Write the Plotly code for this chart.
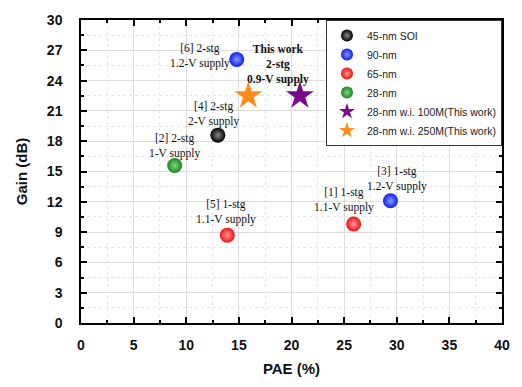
import plotly.graph_objects as go

# Data
series_names = ["45-nm SOI", "90-nm", "65-nm", "28-nm",
                "28-nm w.i. 100M(This work)", "28-nm w.i. 250M(This work)"]
series_pae = [[13.0], [14.8, 29.4], [25.9, 13.9], [8.9], [20.8], [15.9]]
series_gain = [[18.6], [26.1, 12.1], [9.8, 8.7], [15.6], [22.5], [22.5]]
series_colors = ["#000000", "#0a1ef0", "#f01010", "#128a1a", "#7a0a8a", "#ff8c1a"]
series_tints = ["#8a8a8a", "#8a96ff", "#ff9a9a", "#8ad08e", "#7a0a8a", "#ff8c1a"]
series_symbols = ["circle", "circle", "circle", "circle", "star", "star"]

label_texts = ["[6] 2-stg<br>1.2-V supply", "<b>This work<br>2-stg<br>0.9-V supply</b>",
               "[4] 2-stg<br>2-V supply", "[2] 2-stg<br>1-V supply",
               "[5] 1-stg<br>1.1-V supply", "[1] 1-stg<br>1.1-V supply",
               "[3] 1-stg<br>1.2-V supply"]
label_x = [11.3, 18.7, 12.6, 8.9, 13.8, 25.0, 30.0]
label_y = [26.4, 25.6, 20.7, 17.5, 11.0, 12.2, 14.3]

x_ticks = list(range(0, 41, 5))
y_ticks = list(range(0, 31, 3))

fig = go.Figure()
for name, xs, ys, col, tint, sym in zip(series_names, series_pae, series_gain,
                                        series_colors, series_tints, series_symbols):
    if sym == "circle":
        marker = dict(symbol=sym, size=15, color=col,
                      gradient=dict(type="radial", color=tint),
                      line=dict(width=0))
    else:
        marker = dict(symbol=sym, size=21, color=col, line=dict(width=0))
    fig.add_trace(go.Scatter(x=xs, y=ys, mode="markers", name=name, marker=marker))

for t, x, y in zip(label_texts, label_x, label_y):
    fig.add_annotation(x=x, y=y, xref="x", yref="y", text=t, showarrow=False,
                       font=dict(family="Liberation Serif", size=11.5, color="#111"),
                       align="center")

axis_common = dict(showline=True, linecolor="black", linewidth=1.5, mirror="ticks",
                   ticks="inside", ticklen=6, tickcolor="black", tickwidth=1.5,
                   showgrid=True, gridcolor="#dcdcdc", gridwidth=1, zeroline=False,
                   tickfont=dict(family="Liberation Sans", size=14, color="#111", weight="bold"))

fig.update_xaxes(range=[0, 40], tickvals=x_ticks, **axis_common, ticklabelstandoff=8,
                 minor=dict(dtick=2.5, ticks="inside", ticklen=3, tickcolor="black",
                            showgrid=True, gridcolor="#e6e6e6", griddash="dot"),
                 title=dict(text="PAE (%)", standoff=12,
                            font=dict(family="Liberation Sans", size=15, color="#111", weight="bold")))
fig.update_yaxes(range=[0, 30], tickvals=y_ticks, **axis_common, ticklabelstandoff=14,
                 minor=dict(dtick=1.5, ticks="inside", ticklen=3, tickcolor="black",
                            showgrid=True, gridcolor="#e6e6e6", griddash="dot"),
                 title=dict(text="Gain (dB)", standoff=16,
                            font=dict(family="Liberation Sans", size=15, color="#111", weight="bold")))

fig.update_layout(
    width=522, height=387,
    margin=dict(l=81, r=19, t=17, b=62),
    plot_bgcolor="white", paper_bgcolor="white",
    legend=dict(x=1, y=1, xanchor="right", yanchor="top",
                bgcolor="white", bordercolor="#333", borderwidth=1,
                font=dict(family="Liberation Sans", size=10.5, color="#222"),
                tracegroupgap=0, itemwidth=30, itemsizing="constant"),
)

fig.write_html("out.html")
